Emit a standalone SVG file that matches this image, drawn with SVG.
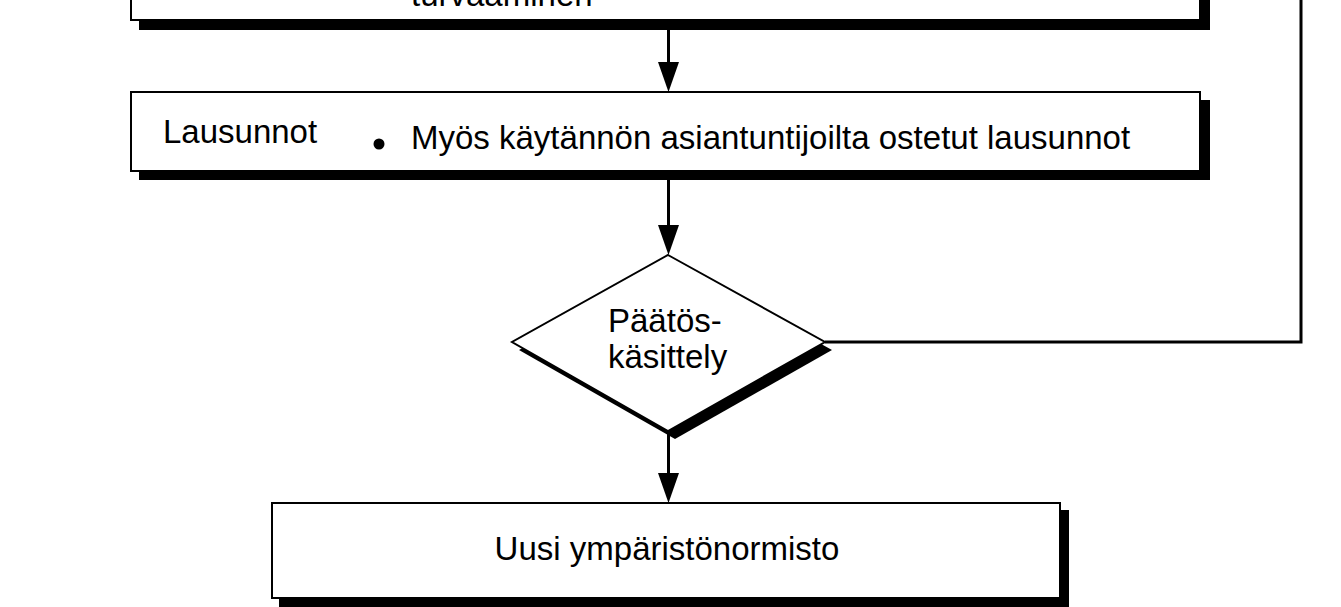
<svg xmlns="http://www.w3.org/2000/svg" width="1341" height="607" viewBox="0 0 1341 607">
<style>
.box{fill:#fff;stroke:#000;stroke-width:2}
.shadow{fill:#000}
.lbl{font-family:"Liberation Sans",Arial,Helvetica,sans-serif;font-size:33px;fill:#000}
.conn{stroke:#000;stroke-width:3;fill:none}
</style>
<defs>
<marker id="ah" markerUnits="userSpaceOnUse" viewBox="0 0 30 21" markerWidth="30" markerHeight="21" refX="20" refY="10.5" orient="auto">
<path d="M0,0 L30,10.5 L0,21 Z" fill="#000"/>
</marker>
</defs>
<rect width="1341" height="607" fill="#fff"/>
<g id="connectors">
<path class="conn" d="M668.5,29 V82" marker-end="url(#ah)"/>
<path class="conn" d="M668.5,180 V245" marker-end="url(#ah)"/>
<path class="conn" d="M668.5,431 V493" marker-end="url(#ah)"/>
<path class="conn" d="M825,342 H1301 V-5"/>
</g>
<g id="node-top">
<rect class="shadow" x="139" y="-42" width="1071" height="72"/>
<rect class="box" x="131" y="-50" width="1069" height="70"/>
<text class="lbl" x="411" y="6">turvaaminen</text>
</g>
<g id="node-lausunnot">
<rect class="shadow" x="139" y="100" width="1071" height="80"/>
<rect class="box" x="131" y="92" width="1069" height="79"/>
<text class="lbl" x="163" y="143">Lausunnot</text>
<circle cx="379" cy="144" r="5.5" fill="#000"/>
<text class="lbl" x="411" y="149">Myös käytännön asiantuntijoilta ostetut lausunnot</text>
</g>
<g id="node-paatos">
<polygon class="shadow" points="675,263 832,350 675,439 519,350"/>
<polygon class="box" points="668,255 825,342 668,431 512,342"/>
<text class="lbl" x="608" y="332">Päätös-</text>
<text class="lbl" x="608" y="368">käsittely</text>
</g>
<g id="node-uusi">
<rect class="shadow" x="279" y="510" width="790" height="97"/>
<rect class="box" x="272" y="503" width="788" height="95"/>
<text class="lbl" x="667" y="560" text-anchor="middle">Uusi ympäristönormisto</text>
</g>
</svg>
